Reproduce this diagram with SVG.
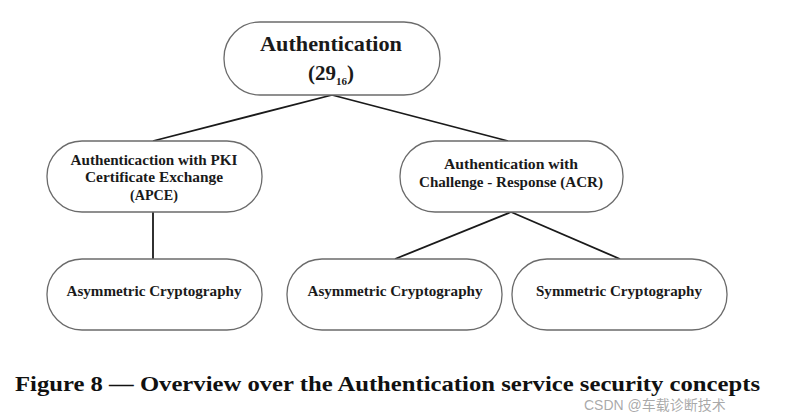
<svg xmlns="http://www.w3.org/2000/svg" width="792" height="417" viewBox="0 0 792 417">
<style>
.box{fill:#fff;stroke:#6b6b6b;stroke-width:1.3}
.t{font-family:"Liberation Serif","DejaVu Serif",serif;font-weight:bold;fill:#1a1a1a;text-anchor:middle}
.s{font-size:15px}
.conn line{stroke:#1a1a1a;stroke-width:1.8}
</style>
<rect width="792" height="417" fill="#fff"/>
<g class="conn">
<line x1="332" y1="95" x2="153" y2="141"/>
<line x1="332" y1="95" x2="508" y2="141"/>
<line x1="153" y1="212" x2="153" y2="259"/>
<line x1="511" y1="212" x2="395" y2="259"/>
<line x1="511" y1="212" x2="620" y2="259"/>
</g>
<g id="auth">
<rect class="box" x="224" y="22" width="216" height="73" rx="36"/>
<text class="t" x="331" y="51" font-size="21" textLength="142" lengthAdjust="spacingAndGlyphs">Authentication</text>
<text class="t" x="331" y="80" font-size="21">(29<tspan font-size="11" dy="5">16</tspan><tspan dy="-5">)</tspan></text>
</g>
<g id="apce">
<rect class="box" x="47" y="141" width="215" height="71" rx="35"/>
<text class="t s" x="154" y="165" textLength="167" lengthAdjust="spacingAndGlyphs">Authenticaction with PKI</text>
<text class="t s" x="154" y="182" textLength="138" lengthAdjust="spacingAndGlyphs">Certificate Exchange</text>
<text class="t s" x="154" y="200" textLength="48" lengthAdjust="spacingAndGlyphs">(APCE)</text>
</g>
<g id="acr">
<rect class="box" x="400" y="141" width="223" height="71" rx="35"/>
<text class="t s" x="511" y="169" textLength="134" lengthAdjust="spacingAndGlyphs">Authentication with</text>
<text class="t s" x="511" y="187" textLength="184" lengthAdjust="spacingAndGlyphs">Challenge - Response (ACR)</text>
</g>
<g id="asym1">
<rect class="box" x="47" y="259" width="215" height="71" rx="35"/>
<text class="t s" x="154" y="296" textLength="175" lengthAdjust="spacingAndGlyphs">Asymmetric Cryptography</text>
</g>
<g id="asym2">
<rect class="box" x="287" y="259" width="215" height="71" rx="35"/>
<text class="t s" x="395" y="296" textLength="175" lengthAdjust="spacingAndGlyphs">Asymmetric Cryptography</text>
</g>
<g id="sym">
<rect class="box" x="512" y="259" width="215" height="71" rx="35"/>
<text class="t s" x="619" y="296" textLength="166" lengthAdjust="spacingAndGlyphs">Symmetric Cryptography</text>
</g>
<text x="15" y="391" font-family="Liberation Serif, DejaVu Serif, serif" font-weight="bold" font-size="22" fill="#111" textLength="745" lengthAdjust="spacingAndGlyphs">Figure 8 — Overview over the Authentication service security concepts</text>
<text x="584" y="410" font-family="Liberation Sans, 'Noto Sans CJK SC', sans-serif" font-size="14" fill="#9a9a9a" fill-opacity="0.85">CSDN @车载诊断技术</text>
</svg>
